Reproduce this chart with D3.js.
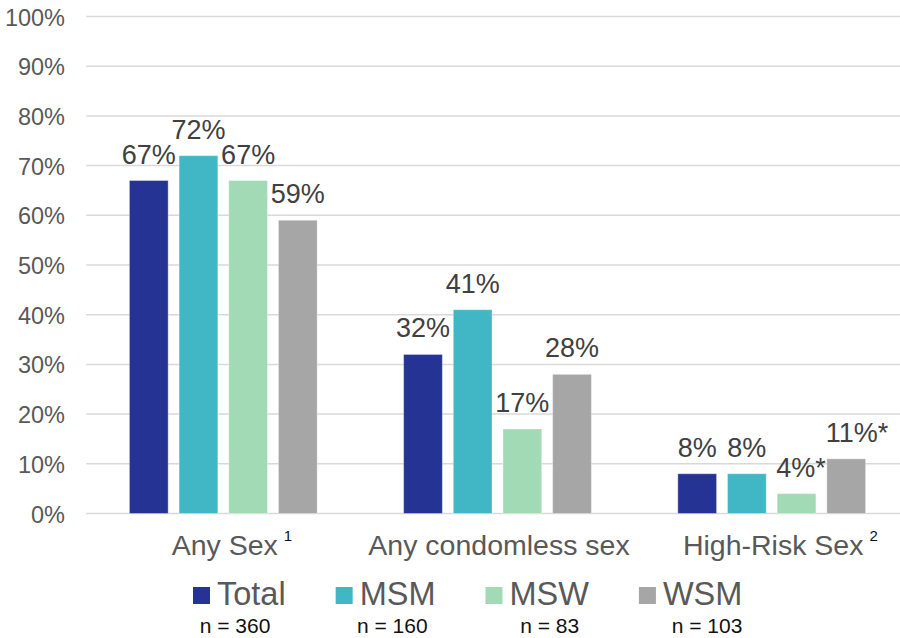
<!DOCTYPE html>
<html lang="en">
<head>
<meta charset="utf-8">
<title>Sexual behaviour by group</title>
<script src="https://d3js.org/d3.v7.min.js"></script>
<style>
  html, body { margin: 0; padding: 0; background: #fff; }
  svg { display: block; font-family: "Liberation Sans", Arial, sans-serif; }
</style>
</head>
<body>
<div id="chart"></div>
<script>
// data
var categories = ["Any Sex", "Any condomless sex", "High-Risk Sex"];
var footnotes = ["1", "", "2"];
var groups = ["Total", "MSM", "MSW", "WSM"];
var groupN = ["n = 360", "n = 160", "n = 83", "n = 103"];
var colors = ["#253494", "#41b6c4", "#a1dab4", "#a6a6a6"];
var total = [67, 32, 8];
var msm = [72, 41, 8];
var msw = [67, 17, 4];
var wsm = [59, 28, 11];
var flagged = [[false, false, false, false], [false, false, false, false], [false, false, true, true]]; // "*" marks
var yTicks = [0, 10, 20, 30, 40, 50, 60, 70, 80, 90, 100];

var series = [total, msm, msw, wsm];

var width = 900, height = 638;

var svg = d3.select("#chart")
  .append("svg")
    .attr("width", width)
    .attr("height", height);

var x = d3.scaleBand()
    .domain(categories)
    .range([86.2, 908.8]);

var xInner = d3.scaleBand()
    .domain(groups)
    .range([0, x.bandwidth()])
    .paddingInner(0.22)
    .paddingOuter(0.87);

var y = d3.scaleLinear()
    .domain([0, 100])
    .range([513.5, 16.5]);

var color = d3.scaleOrdinal().domain(groups).range(colors);

// gridlines + tick labels
var grid = svg.append("g");
grid.selectAll("line")
  .data(yTicks)
  .enter().append("line")
    .attr("x1", x.range()[0])
    .attr("x2", x.range()[1])
    .attr("y1", function(d) { return y(d); })
    .attr("y2", function(d) { return y(d); })
    .attr("stroke", "#d9d9d9")
    .attr("stroke-width", 1.5);

grid.selectAll("text")
  .data(yTicks)
  .enter().append("text")
    .attr("x", 65)
    .attr("y", function(d) { return y(d) + 9; })
    .attr("text-anchor", "end")
    .style("font-size", "23.5px")
    .style("fill", "#595959")
    .text(function(d) { return d + "%"; });

// flatten to one record per bar
var bars = [];
categories.forEach(function(c, ci) {
  groups.forEach(function(g, gi) {
    bars.push({cat: c, group: g, value: series[gi][ci], star: flagged[ci][gi]});
  });
});

var barG = svg.append("g");
barG.selectAll("rect")
  .data(bars)
  .enter().append("rect")
    .attr("x", function(d) { return x(d.cat) + xInner(d.group); })
    .attr("y", function(d) { return y(d.value); })
    .attr("width", xInner.bandwidth())
    .attr("height", function(d) { return y(0) - y(d.value); })
    .attr("fill", function(d) { return color(d.group); })
    .attr("stroke", "rgba(255,255,255,0.35)")
    .attr("stroke-width", 1);

// value labels; starred ones start at the bar's left edge
barG.selectAll("text")
  .data(bars)
  .enter().append("text")
    .attr("x", function(d) {
      var left = x(d.cat) + xInner(d.group);
      return d.star ? left - 1 : left + xInner.bandwidth() / 2;
    })
    .attr("y", function(d) { return y(d.value) - 17; })
    .attr("text-anchor", function(d) { return d.star ? "start" : "middle"; })
    .style("font-size", "27px")
    .style("fill", "#404040")
    .text(function(d) { return d.value + "%" + (d.star ? "*" : ""); });

// category labels with superscript notes
var catG = svg.append("g");
categories.forEach(function(c, i) {
  var cx = x(c) + x.bandwidth() / 2 + 1.5;
  var t = catG.append("text")
      .attr("x", cx)
      .attr("y", 555)
      .attr("text-anchor", "middle")
      .style("font-size", "28.5px")
      .style("fill", "#595959")
      .text(c);
  if (footnotes[i]) {
    var w = t.node().getComputedTextLength();
    catG.append("text")
        .attr("x", cx + w / 2 + 6)
        .attr("y", 541)
        .style("font-size", "15px")
        .style("fill", "#111")
        .text(footnotes[i]);
  }
});

// legend
var legend = svg.append("g");
var lx = 193;
groups.forEach(function(g, i) {
  legend.append("rect")
      .attr("x", lx)
      .attr("y", 587)
      .attr("width", 17)
      .attr("height", 17)
      .attr("fill", color(g));
  var t = legend.append("text")
      .attr("x", lx + 24)
      .attr("y", 605)
      .style("font-size", "32.5px")
      .style("fill", "#595959")
      .text(g);
  lx = lx + 24 + t.node().getComputedTextLength() + 50;
});

var nx = d3.scalePoint().domain(groups).range([235, 707]);
legend.selectAll(".nlab")
  .data(groups)
  .enter().append("text")
    .attr("class", "nlab")
    .attr("x", function(d) { return nx(d); })
    .attr("y", 633)
    .attr("text-anchor", "middle")
    .style("font-size", "21px")
    .style("fill", "#111")
    .text(function(d, i) { return groupN[i]; });
</script>
</body>
</html>
